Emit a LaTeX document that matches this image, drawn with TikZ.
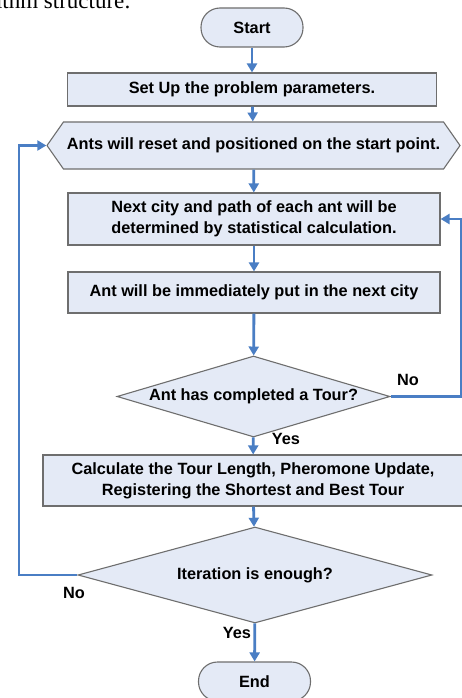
\documentclass[tikz,border=0pt]{standalone}
\usepackage{fontspec}
\setmainfont{Liberation Sans}
\newfontfamily\serifnote{Liberation Serif}
\usetikzlibrary{shapes.geometric,shapes.symbols,arrows.meta}

\definecolor{boxfill}{HTML}{E4EAF6}
\definecolor{boxline}{HTML}{6E6E6E}
\definecolor{flowblue}{HTML}{4A7EC4}

\tikzset{
  basebox/.style={draw=boxline, line width=1.1pt, fill=boxfill, font=\fontsize{16.3}{21}\selectfont\bfseries, align=center, inner sep=0pt},
  procbox/.style={basebox, rectangle},
  termbox/.style={basebox, rectangle, rounded corners=19pt, minimum height=39pt},
  decbox/.style={basebox, diamond},
  hexbox/.style={basebox, signal, signal to=west and east, signal pointer angle=110},
  flowline/.style={draw=flowblue, line width=2.8pt, -{Triangle[length=9pt,width=10pt]}},
  flowlabel/.style={font=\fontsize{16.3}{19}\selectfont\bfseries}
}

\begin{document}
\begin{tikzpicture}[x=1pt,y=-1pt]
    \useasboundingbox[fill=white] (0,0) rectangle (462,698);
    % cropped caption line above the chart
    \node[font=\serifnote\fontsize{23}{26}\selectfont, anchor=base east, inner sep=0pt] (cap) at (131,8.5) {algorithm structure:};

    \node[termbox, minimum width=102pt] (start) at (252,27.5) {Start};
    \node[procbox, minimum width=369pt, minimum height=33pt] (setup) at (252,89.5) {Set Up the problem parameters.};
    \node[hexbox, minimum width=413pt, minimum height=47pt] (reset) at (253.5,145.5) {Ants will reset and positioned on the start point.};
    \node[procbox, minimum width=372pt, minimum height=52pt] (next) at (254,219) {Next city and path of each ant will be\\determined by statistical calculation.};
    \node[procbox, minimum width=372pt, minimum height=41pt] (put) at (254,292.5) {Ant will be immediately put in the next city};
    \node[decbox, aspect=3.4, minimum width=273pt, minimum height=81pt] (tour) at (253.5,396.5) {Ant has completed a Tour?};
    \node[procbox, minimum width=420pt, minimum height=51pt] (calc) at (253,480.5) {Calculate the Tour Length, Pheromone Update,\\Registering the Shortest and Best Tour};
    \node[decbox, aspect=3.7, minimum width=354pt, minimum height=96pt] (iter) at (255,575) {Iteration is enough?};
    \node[termbox, minimum width=112pt] (end) at (254.5,681.5) {End};

    \coordinate (rloop) at (461,396.5);
    \coordinate (lloop) at (19,575);

    \draw[flowline] (start) -- (setup);
    \draw[flowline] (setup) -- (reset);
    \draw[flowline] (reset) -- (next);
    \draw[flowline] (next) -- (put);
    \draw[flowline] (put) -- (tour);
    \draw[flowline] (tour) -- (calc);
    \draw[flowline] (calc) -- (iter);
    \draw[flowline] (iter) -- (end);
    \draw[flowline] (tour.east) -- (rloop) |- (next.east);
    \draw[flowline] (iter.west) -- (lloop) |- (reset.west);

    \node[flowlabel] (no1) at (408,380) {No};
    \node[flowlabel] (yes1) at (286,439) {Yes};
    \node[flowlabel] (no2) at (74,593) {No};
    \node[flowlabel] (yes2) at (237,633) {Yes};
\end{tikzpicture}
\end{document}
